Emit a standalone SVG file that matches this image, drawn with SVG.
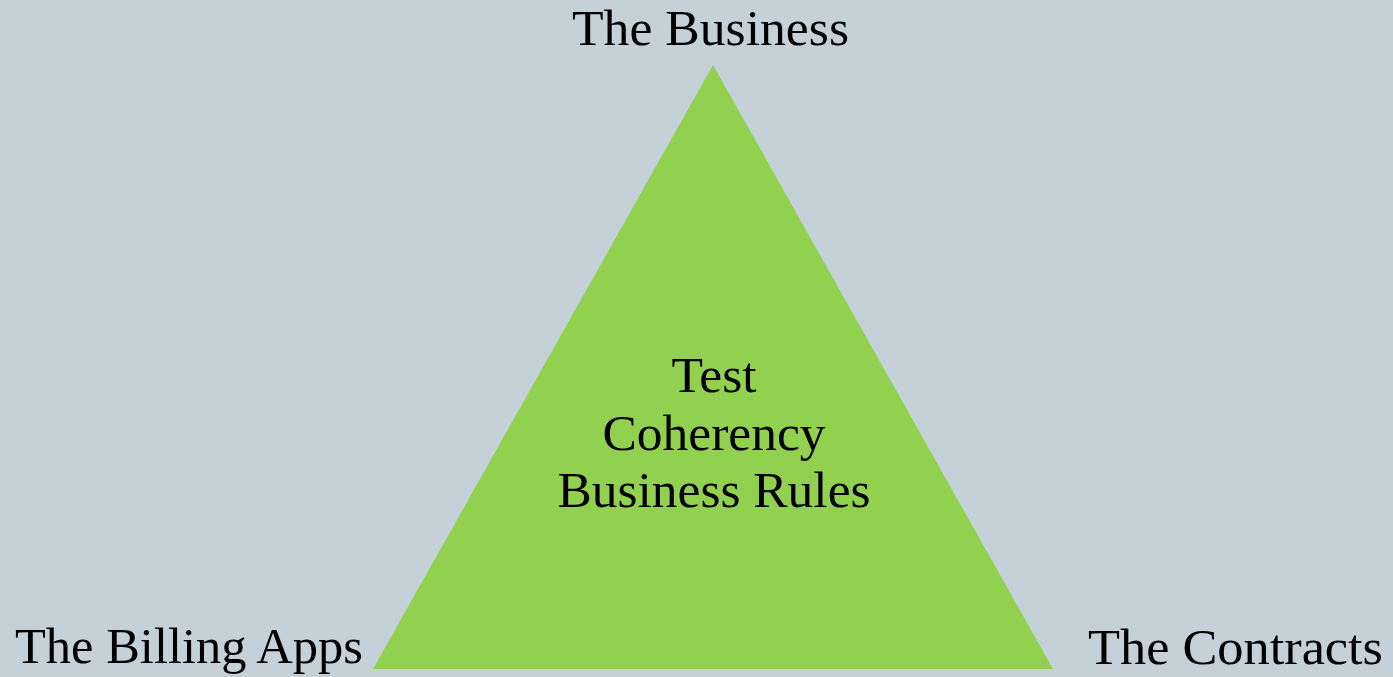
<svg xmlns="http://www.w3.org/2000/svg" width="1393" height="677" viewBox="0 0 1393 677">
<style>
.lbl{font-family:"Liberation Serif","Times New Roman",serif;font-size:50px;fill:#000000;}
</style>
<rect width="1393" height="677" fill="#C5D1D8"/>
<g id="triangle">
<polygon points="713,65 373,669 1053,669" fill="#92D050"/>
<text class="lbl" x="714" y="392" text-anchor="middle" textLength="85" lengthAdjust="spacingAndGlyphs">Test</text>
<text class="lbl" x="714" y="450" text-anchor="middle" textLength="223" lengthAdjust="spacingAndGlyphs">Coherency</text>
<text class="lbl" x="714" y="507" text-anchor="middle" textLength="313" lengthAdjust="spacingAndGlyphs">Business Rules</text>
</g>
<g id="business">
<text class="lbl" x="572" y="45" textLength="277" lengthAdjust="spacingAndGlyphs">The Business</text>
</g>
<g id="billing">
<text class="lbl" x="15" y="663" textLength="348" lengthAdjust="spacingAndGlyphs">The Billing Apps</text>
</g>
<g id="contracts">
<text class="lbl" x="1088" y="664" textLength="295" lengthAdjust="spacingAndGlyphs">The Contracts</text>
</g>
<g id="connectors"></g>
</svg>
